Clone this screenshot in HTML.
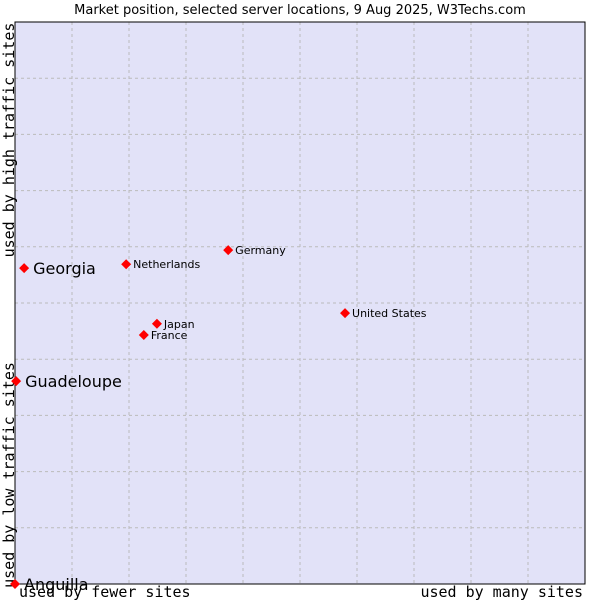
<!DOCTYPE html>
<html><head><meta charset="utf-8"><style>
body{margin:0;background:#fff}
svg text{font-family:"DejaVu Sans","Liberation Sans",sans-serif}
.mono{font-family:"DejaVu Sans Mono","Liberation Mono",monospace}
</style></head><body>
<svg id="chart" width="600" height="600" xmlns="http://www.w3.org/2000/svg">
<text x="300" y="14" text-anchor="middle" font-size="13" fill="#000">Market position, selected server locations, 9 Aug 2025, W3Techs.com</text>
<rect x="15" y="22" width="570" height="562" fill="#e2e2f8"/>
<g id="grid"></g>
<rect x="15" y="22" width="570" height="562" fill="none" stroke="#000" stroke-width="1"/>
<text class="mono" transform="translate(14,140) rotate(-90)" text-anchor="middle" font-size="15">used by high traffic sites</text>
<text class="mono" transform="translate(14,475) rotate(-90)" text-anchor="middle" font-size="15">used by low traffic sites</text>
<text class="mono" x="19" y="597" font-size="15">used by fewer sites</text>
<text class="mono" x="583" y="597" text-anchor="end" font-size="15">used by many sites</text>
<g id="points"></g>
</svg>
<script>
const names = ["Georgia","Netherlands","Germany","United States","Japan","France","Guadeloupe","Anguilla"];
const xValues = [1.6,19.5,37.4,57.9,24.9,22.6,0.2,0];
const yValues = [56.2,56.9,59.4,48.2,46.3,44.3,36.1,0];
const highlighted = [true,false,false,false,false,false,true,true];
const L=15,T=22,W=570,H=562;
const sx=v=>L+v/100*W, sy=v=>T+H-v/100*H;
const ns="http://www.w3.org/2000/svg";
const grid=document.getElementById('grid');
for(let i=1;i<10;i++){
  const l=document.createElementNS(ns,'line');
  
  
  const x=sx(i*10);
  l.setAttribute('x1',x);l.setAttribute('x2',x);l.setAttribute('y1',T);l.setAttribute('y2',T+H);
  l.setAttribute('stroke','#bbb');l.setAttribute('stroke-dasharray','3,3');
  grid.appendChild(l);
  const h=document.createElementNS(ns,'line');
  
  
  const y=sy(i*10);
  h.setAttribute('x1',L);h.setAttribute('x2',L+W);h.setAttribute('y1',y);h.setAttribute('y2',y);
  h.setAttribute('stroke','#bbb');h.setAttribute('stroke-dasharray','3,3');
  grid.appendChild(h);
}
const pg=document.getElementById('points');
names.forEach((n,i)=>{
  const x=sx(xValues[i]),y=sy(yValues[i]);
  const p=document.createElementNS(ns,'polygon');
  
  
  p.setAttribute('points',`${x},${y-5} ${x+5},${y} ${x},${y+5} ${x-5},${y}`);
  p.setAttribute('fill','#f00');
  pg.appendChild(p);
  const t=document.createElementNS(ns,'text');
  
  
  const big=highlighted[i];
  t.setAttribute('x',x+(big?9:7));
  t.setAttribute('y',y+(big?6:4));
  t.setAttribute('font-size',big?16:11);
  t.textContent=n;
  pg.appendChild(t);
});
</script>
</body></html>
